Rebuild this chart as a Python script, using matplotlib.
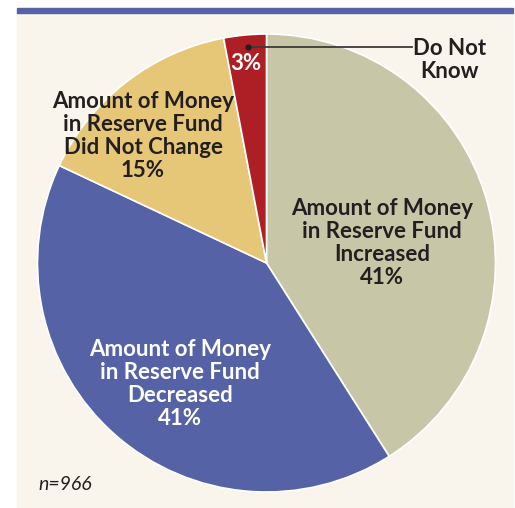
import matplotlib.pyplot as plt
from matplotlib.patches import Rectangle

labels = ['Amount of Money\nin Reserve Fund\nIncreased', 'Amount of Money\nin Reserve Fund\nDecreased',
          'Amount of Money\nin Reserve Fund\nDid Not Change', 'Do Not\nKnow']
values = [41, 41, 15, 3]
colors = ['#C7C7A8', '#5562A5', '#E6C677', '#AE1E25']
n_text = 'n=966'

W, H = 515, 508
fig = plt.figure(figsize=(W / 100, H / 100), dpi=100)
ax = fig.add_axes([0, 0, 1, 1])


def Y(y):
    return H - y


# background panel and top bar
ax.add_patch(Rectangle((17, 0), 496, Y(13), color='#F9F5EC', zorder=0))
ax.add_patch(Rectangle((17, Y(13)), 496, 5.3, color='#5562A5', zorder=0))

cx, cy, r = 266.5, Y(263), 229
ax.pie(values, colors=colors, startangle=90, counterclock=False, center=(cx, cy), radius=r,
       wedgeprops=dict(edgecolor='white', linewidth=1.2), frame=True)
ax.set_xlim(0, W)
ax.set_ylim(0, H)
ax.axis('off')

font = dict(family=['Lato', 'DejaVu Sans'], fontweight='bold', fontsize=16, ha='center', va='center',
            linespacing=1.1)
dark = '#231F20'
ax.text(382, Y(243), labels[0] + '\n%d%%' % values[0], color=dark, **font)
ax.text(180, Y(384), labels[1] + '\n%d%%' % values[1], color='white', **font)
ax.text(143, Y(136), labels[2] + '\n%d%%' % values[2], color=dark, **font)
ax.text(246, Y(64), '%d%%' % values[3], color='white', **font)
ax.text(450, Y(60), labels[3], color=dark, **font)

# leader line for "Do Not Know"
ax.plot([248, 412], [Y(47), Y(47)], color='#3a3a3a', lw=1.3)
ax.plot([248], [Y(47)], 'o', color='#231F20', ms=3.5)

ax.text(38, Y(485), n_text, color=dark, fontsize=14, style='italic', family=['Lato', 'DejaVu Sans'],
        ha='left', va='center')

fig.savefig('out.png', dpi=100)
